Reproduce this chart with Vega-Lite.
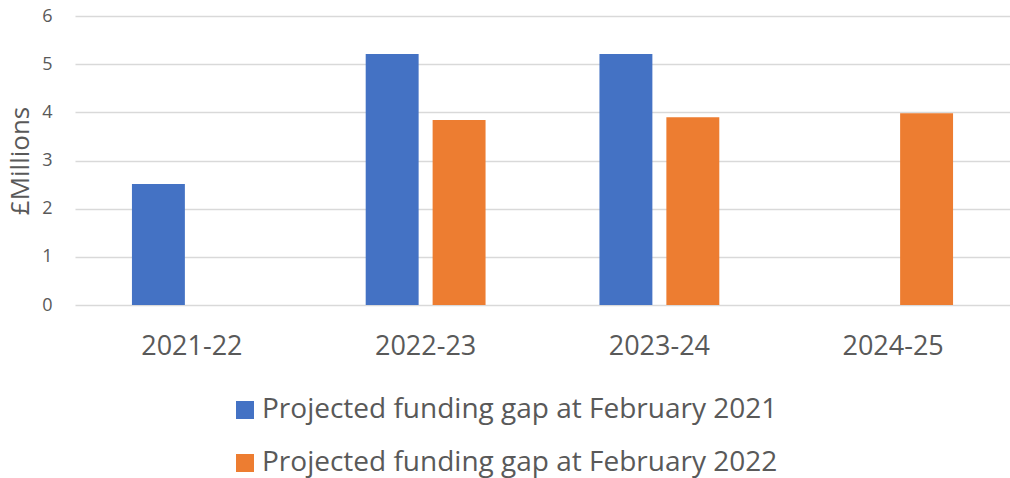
{
  "$schema": "https://vega.github.io/schema/vega-lite/v6.json",
  "autosize": {"type": "none"},
  "width": 935,
  "height": 289,
  "padding": {"left": 75, "top": 16, "right": 0, "bottom": 173},
  "background": "#ffffff",
  "config": {
    "font": "Open Sans",
    "view": {"stroke": null}
  },
  "data": {
    "values": [
      {"year": "2021-22", "series": "Projected funding gap at February 2021", "value": 2.51},
      {"year": "2022-23", "series": "Projected funding gap at February 2021", "value": 5.21},
      {"year": "2022-23", "series": "Projected funding gap at February 2022", "value": 3.84},
      {"year": "2023-24", "series": "Projected funding gap at February 2021", "value": 5.21},
      {"year": "2023-24", "series": "Projected funding gap at February 2022", "value": 3.90},
      {"year": "2024-25", "series": "Projected funding gap at February 2022", "value": 3.98}
    ]
  },
  "mark": {"type": "bar"},
  "encoding": {
    "x": {
      "field": "year",
      "type": "nominal",
      "scale": {"domain": ["2021-22", "2022-23", "2023-24", "2024-25"], "paddingInner": 0, "paddingOuter": 0},
      "axis": {
        "title": null,
        "labelAngle": 0,
        "labelFontSize": 27,
        "labelColor": "#595959",
        "labelPadding": 28,
        "domain": false,
        "ticks": false,
        "grid": false
      }
    },
    "xOffset": {
      "field": "series",
      "type": "nominal",
      "scale": {"domain": ["Projected funding gap at February 2021", "Projected funding gap at February 2022"], "paddingInner": 0.209, "paddingOuter": 0.851}
    },
    "y": {
      "field": "value",
      "type": "quantitative",
      "scale": {"domain": [0, 6], "nice": false},
      "axis": {
        "title": "£Millions",
        "titleFontSize": 26,
        "titleFontWeight": "normal",
        "titleColor": "#595959",
        "titlePadding": 8,
        "values": [0, 1, 2, 3, 4, 5, 6],
        "labelFontSize": 18,
        "labelColor": "#595959",
        "labelPadding": 23,
        "domain": false,
        "ticks": false,
        "grid": true,
        "gridColor": "#d9d9d9",
        "gridWidth": 1.5
      }
    },
    "color": {
      "field": "series",
      "type": "nominal",
      "scale": {"domain": ["Projected funding gap at February 2021", "Projected funding gap at February 2022"], "range": ["#4472C4", "#ED7D31"]},
      "legend": {
        "title": null,
        "orient": "none",
        "legendX": 156,
        "legendY": 380,
        "direction": "vertical",
        "symbolType": "square",
        "symbolSize": 324,
        "symbolStrokeWidth": 0,
        "symbolOpacity": 1,
        "labelFontSize": 28,
        "labelColor": "#595959",
        "labelOffset": 3,
        "rowPadding": 25,
        "labelLimit": 0
      }
    }
  }
}
